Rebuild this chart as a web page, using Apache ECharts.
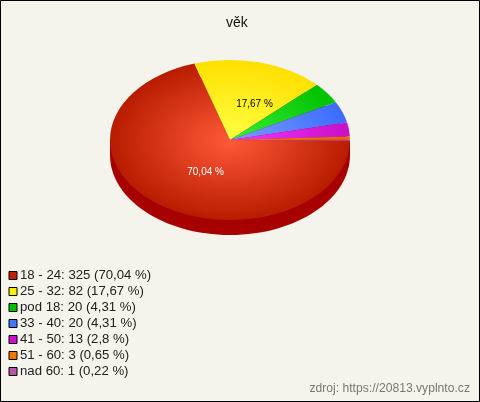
<!DOCTYPE html>
<html><head><meta charset="utf-8">
<style>html,body{margin:0;padding:0;background:#f5f4ec}#c{width:480px;height:402px}</style>
<script src="https://cdn.jsdelivr.net/npm/echarts@6/dist/echarts.min.js"></script>
</head><body><div id="c"></div>
<script>
const categories = ['18 - 24','25 - 32','pod 18','33 - 40','41 - 50','51 - 60','nad 60'];
const values = [325,82,20,20,13,3,1];
const percentLabels = ['70,04 %','17,67 %','4,31 %','4,31 %','2,8 %','0,65 %','0,22 %'];
const legendColors = ['#c02000','#ffee00','#00c000','#4477ff','#cc11cc','#ee7700','#bb55aa'];
const centerColors = ['#ff5a38','#ffff44','#38f038','#7c9cff','#f038ff','#ff8820','#cc66bb'];
const edgeColors = ['#b81c00','#ffe000','#00c000','#3a6cff','#c810c8','#ee6600','#bb55aa'];
const showLabel = [true,true,false,false,false,false,false];
const labelColors = ['#ffffff','#000000'];

const CX=230, CY=140, RX=120, SY=2/3, DEPTH=15, START=0.6*Math.PI/180;
const total = values.reduce((a,b)=>a+b,0);
let acc=0;
const angles = values.map(v=>{const s=acc; acc+=v; return [START+s/total*2*Math.PI, START+acc/total*2*Math.PI];});
const names = categories.map((c,i)=>`${c}: ${values[i]} (${percentLabels[i]})`);

const sideSeries = {
  type:'custom', name:'side', coordinateSystem:'none', silent:true, animation:false,
  data:[[0]], z:1,
  renderItem(){
    const fill={fill:'#a60000'};
    return {type:'group',children:[
      {type:'ellipse',shape:{cx:CX,cy:CY+DEPTH,rx:RX,ry:RX*SY},style:fill},
      {type:'rect',shape:{x:CX-RX,y:CY,width:2*RX,height:DEPTH},style:fill}
    ]};
  }
};
const sliceSeries = values.map((v,i)=>({
  type:'custom', name:names[i], coordinateSystem:'none', silent:true, animation:false,
  itemStyle:{color:legendColors[i]}, data:[[v]], z:2,
  renderItem(){
    const [a0,a1]=angles[i];
    const children=[{
      type:'sector', x:CX, y:CY, scaleY:SY,
      shape:{cx:0,cy:0,r0:0,r:RX,startAngle:a0,endAngle:a1,clockwise:true},
      style:{fill:{type:'radial',x:0,y:0,r:RX,global:true,colorStops:[
        {offset:0,color:centerColors[i]},{offset:1,color:edgeColors[i]}]}}
    }];
    if(showLabel[i]){
      const m=(a0+a1)/2;
      children.push({type:'text',z2:50,
        x:CX+Math.cos(m)*RX*0.48+10, y:CY+Math.sin(m)*RX*0.48*SY+1,
        style:{text:percentLabels[i],fill:labelColors[i],font:'10px "Liberation Sans"',align:'center',verticalAlign:'middle'}});
    }
    return {type:'group',children};
  }
}));

const chart = echarts.init(document.getElementById('c'),null,{renderer:'canvas'});
chart.setOption({
  backgroundColor:'#f5f4ec',
  animation:false,
  title:{text:'věk',left:226,top:16,padding:0,textStyle:{fontFamily:'Liberation Sans',fontSize:14,fontWeight:'normal',color:'#111'}},
  legend:{
    data:names, orient:'vertical', left:8.5, top:269, padding:0, itemGap:3,
    itemWidth:8, itemHeight:8, selectedMode:false, icon:'rect',
    itemStyle:{borderColor:'#000',borderWidth:1},
    textStyle:{fontFamily:'Liberation Sans',fontSize:13.2,color:'#222',padding:[1,0,0,-2],lineHeight:12,height:12}
  },
  graphic:[
    {type:'rect',silent:true,z:100,shape:{x:.5,y:.5,width:479,height:401},style:{fill:'none',stroke:'#000',lineWidth:1}},
    {type:'text',silent:true,z:100,x:470,y:389,style:{text:'zdroj: https://20813.vyplnto.cz',fill:'#777',font:'12.15px "Liberation Sans"',align:'right',verticalAlign:'middle'}}
  ],
  series:[sideSeries,...sliceSeries]
});
</script></body></html>
